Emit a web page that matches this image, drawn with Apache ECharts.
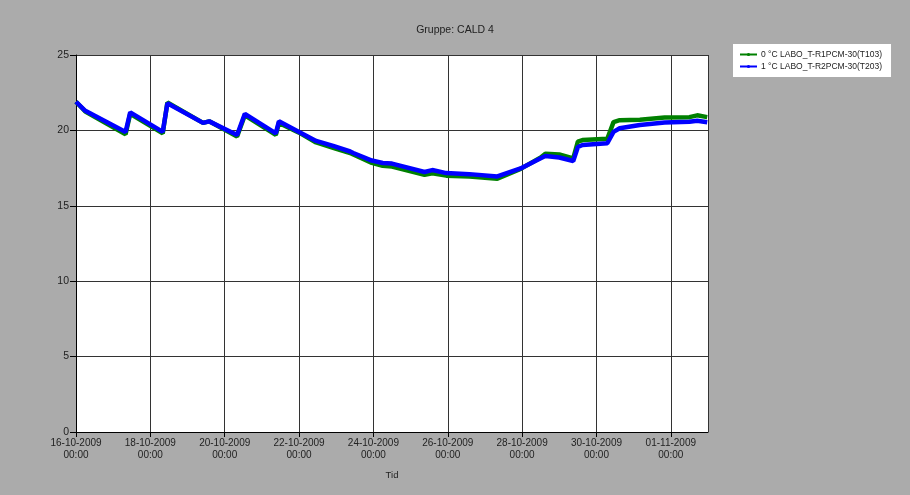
<!DOCTYPE html>
<html>
<head>
<meta charset="utf-8">
<script src="https://cdn.jsdelivr.net/npm/echarts@6/dist/echarts.min.js"></script>
<style>
  html, body { margin: 0; padding: 0; background: #ababab; }
  #chart { width: 910px; height: 495px; }
</style>
</head>
<body>
<div id="chart"></div>
<script>
// tidspunkter (målt fra 16-10-2009 00:00)
var times = [
  '2009-10-16 00:00', '2009-10-16 06:00', '2009-10-17 08:00', '2009-10-17 11:00',
  '2009-10-18 08:00', '2009-10-18 11:00', '2009-10-19 10:00', '2009-10-19 14:00',
  '2009-10-20 08:00', '2009-10-20 13:00', '2009-10-21 09:00', '2009-10-21 11:00',
  '2009-10-22 00:00', '2009-10-22 11:00', '2009-10-22 22:00', '2009-10-23 09:00',
  '2009-10-23 11:00', '2009-10-23 23:00', '2009-10-24 06:00', '2009-10-24 12:00',
  '2009-10-25 09:00', '2009-10-25 14:00', '2009-10-25 23:00', '2009-10-26 14:00',
  '2009-10-27 08:00', '2009-10-27 23:00', '2009-10-28 12:00', '2009-10-28 15:00',
  '2009-10-29 00:00', '2009-10-29 09:00', '2009-10-29 12:00', '2009-10-29 15:00',
  '2009-10-30 07:00', '2009-10-30 11:00', '2009-10-30 15:00', '2009-10-31 04:00',
  '2009-10-31 20:00', '2009-11-01 12:00', '2009-11-01 17:00', '2009-11-01 23:30'
];
// T103
var t103 = [
  21.9, 21.25, 19.75, 21.1, 19.8, 21.85, 20.5, 20.6,
  19.6, 21.0, 19.7, 20.5, 19.85, 19.2, 18.85, 18.5,
  18.4, 17.85, 17.65, 17.6, 17.05, 17.15, 17.0, 16.95,
  16.8, 17.45, 18.2, 18.45, 18.4, 18.15, 19.25, 19.36,
  19.45, 20.55, 20.68, 20.7, 20.85, 20.88, 21.0, 20.88
];
// T203
var t203 = [
  21.9, 21.3, 19.9, 21.2, 19.9, 21.8, 20.5, 20.6,
  19.7, 21.1, 19.8, 20.6, 19.9, 19.3, 18.97, 18.6,
  18.5, 18.0, 17.84, 17.8, 17.24, 17.37, 17.17, 17.1,
  16.95, 17.48, 18.15, 18.3, 18.2, 17.97, 18.9, 19.03,
  19.15, 19.9, 20.14, 20.36, 20.52, 20.58, 20.64, 20.54
];
var seriesNames = ['0 °C LABO_T-R1PCM-30(T103)', '1 °C LABO_T-R2PCM-30(T203)'];
var yTicks = [0, 5, 10, 15, 20, 25];

var startMs = Date.UTC(2009, 9, 16);
var dayMs = 86400000;

function toDays(s) {
  var p = s.split(/[- :]/).map(Number);
  return (Date.UTC(p[0], p[1] - 1, p[2], p[3], p[4]) - startMs) / dayMs;
}
function pad(n) { return (n < 10 ? '0' : '') + n; }
function dayLabel(v) {
  var d = new Date(startMs + v * dayMs);
  return pad(d.getUTCDate()) + '-' + pad(d.getUTCMonth() + 1) + '-' + d.getUTCFullYear() +
    '\n' + pad(d.getUTCHours()) + ':' + pad(d.getUTCMinutes());
}

var xs = times.map(toDays);
function pairs(vals) { return xs.map(function (x, i) { return [x, vals[i]]; }); }

var chart = echarts.init(document.getElementById('chart'));
var font = 'Liberation Sans';
chart.setOption({
  backgroundColor: '#ababab',
  animation: false,
  title: {
    text: 'Gruppe: CALD 4',
    left: 'center',
    top: 20,
    textStyle: { fontFamily: font, fontSize: 10.5, fontWeight: 'normal', color: '#222' }
  },
  legend: {
    orient: 'vertical',
    left: 733,
    top: 44,
    backgroundColor: '#fff',
    padding: [6, 9, 6, 6],
    itemGap: 3,
    itemWidth: 17,
    itemHeight: 4,
    lineStyle: { width: 2 },
    textStyle: { fontFamily: font, fontSize: 8.5, color: '#222', padding: [0, 0, 0, -1] },
    data: seriesNames
  },
  grid: {
    left: 76, right: 202, top: 55, bottom: 63,
    show: true, backgroundColor: '#fff', borderWidth: 0
  },
  xAxis: {
    type: 'value',
    min: 0, max: 17, interval: 2,
    name: 'Tid',
    nameLocation: 'middle',
    nameGap: 38,
    nameTextStyle: { fontFamily: font, fontSize: 9.5, color: '#222' },
    axisLine: { lineStyle: { color: '#000', width: 1 } },
    axisTick: { show: true, length: 5, lineStyle: { color: '#000' } },
    axisLabel: {
      fontFamily: font, fontSize: 10, color: '#222', lineHeight: 12, margin: 5,
      showMaxLabel: false,
      formatter: dayLabel
    },
    splitLine: { show: true, lineStyle: { color: '#333', width: 1 } }
  },
  yAxis: {
    type: 'value',
    min: yTicks[0], max: yTicks[yTicks.length - 1], interval: 5,
    axisLine: { show: true, lineStyle: { color: '#000', width: 1 } },
    axisTick: { show: true, length: 6, lineStyle: { color: '#000' } },
    axisLabel: { fontFamily: font, fontSize: 10.5, color: '#222', margin: 7 },
    splitLine: { show: true, lineStyle: { color: '#333', width: 1 } }
  },
  series: [
    {
      name: seriesNames[0], type: 'line', data: pairs(t103),
      color: '#008000', showSymbol: false, symbol: 'circle', symbolSize: 3,
      lineStyle: { width: 4.5, color: '#008000' }
    },
    {
      name: seriesNames[1], type: 'line', data: pairs(t203),
      color: '#0000ff', showSymbol: false, symbol: 'circle', symbolSize: 3,
      lineStyle: { width: 4.5, color: '#0000ff' }
    }
  ]
});
</script>
</body>
</html>
